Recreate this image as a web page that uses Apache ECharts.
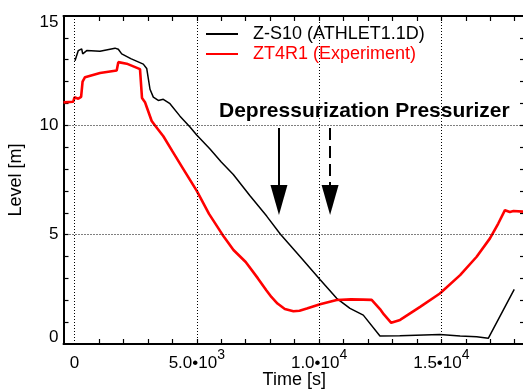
<!DOCTYPE html>
<html><head><meta charset="utf-8">
<script src="https://cdn.jsdelivr.net/npm/echarts@6/dist/echarts.min.js"></script>
<style>html,body{margin:0;padding:0;background:#fff;overflow:hidden}#c{width:523px;height:390px}</style>
</head><body><div id="c"></div>
<script>
// ---- data ----
const simName = 'Z-S10 (ATHLET1.1D)';
const expName = 'ZT4R1 (Experiment)';
const simTime  = [20, 155, 294, 335, 500, 1042, 1656, 1791, 1930, 2300, 2813, 2952, 3087, 3222, 3426, 3630, 3904, 4313, 4722, 4996, 5540, 6000, 6493, 7175, 7857, 8420, 9220, 10037, 10719, 11264, 11808, 12490, 13300, 14939, 15767, 16443, 16918, 17980];
const simLevel = [12.95, 13.42, 13.5, 13.27, 13.42, 13.39, 13.53, 13.48, 13.27, 13.05, 12.8, 12.6, 11.65, 11.29, 11.14, 11.19, 10.99, 10.42, 9.92, 9.56, 8.92, 8.32, 7.75, 6.78, 5.85, 5.02, 4.0, 2.95, 2.09, 1.63, 1.32, 0.37, 0.38, 0.44, 0.37, 0.33, 0.26, 2.5];
const expTime  = [-450, -50, 0, 155, 270, 330, 430, 1042, 1725, 1760, 1791, 2134, 2678, 2740, 2760, 2882, 2952, 3156, 3300, 3632, 4000, 4450, 5000, 5500, 6050, 6500, 7000, 7500, 7850, 8050, 8300, 8600, 8950, 9200, 9500, 10040, 10720, 11300, 11800, 12150, 12490, 12650, 12950, 13313, 14131, 14939, 15767, 16443, 16987, 17326, 17600, 17800, 17950, 18420];
const expLevel = [11.05, 11.08, 11.28, 11.22, 11.3, 12.0, 12.2, 12.39, 12.51, 12.6, 12.89, 12.82, 12.57, 12.5, 11.25, 11.06, 10.84, 10.2, 9.98, 9.5, 8.82, 8.0, 7.0, 5.95, 5.0, 4.3, 3.75, 3.0, 2.45, 2.15, 1.85, 1.6, 1.5, 1.52, 1.62, 1.82, 2.01, 2.04, 2.03, 2.02, 1.6, 1.35, 0.97, 1.1, 1.7, 2.31, 3.15, 3.99, 4.83, 5.51, 6.12, 6.04, 6.08, 6.05];

const xMajorTicks = [0, 5000, 10000, 15000];
const xLabelMantissa = ['0', '5.0\u202210', '1.0\u202210', '1.5\u202210'];
const xLabelExponent = ['', '3', '4', '4'];
const xMinorTicks = [1000,2000,3000,4000,5000,6000,7000,8000,9000,10000,11000,12000,13000,14000,15000,16000,17000,18000];
const yMajorTicks = [0, 5, 10, 15];
const yMinorTicks = [1,2,3,4,5,6,7,8,9,10,11,12,13,14];
const gridX = [0, 5000, 10000, 15000];
const gridY = [5, 10];
const annotationText = 'Depressurization Pressurizer';
const arrowTimes = [8360, 10450];   // solid, dashed
const arrowTop = 9.88;
const arrowHeadCenter = 6.58;

// ---- chart ----
const FONT = '"Liberation Sans", Arial, Helvetica, sans-serif';
const chart = echarts.init(document.getElementById('c'), null, {renderer: 'canvas'});
const xMin = -450, xMax = 18420;

function xAxisBase(pos) {
  return {
    type: 'value', min: xMin, max: xMax, position: pos,
    axisLine: {show: true, onZero: false, lineStyle: {color: '#000', width: 2}},
    axisTick: {show: true, inside: true, length: 5, customValues: xMinorTicks, lineStyle: {color: '#000', width: 1.2}},
    splitLine: {show: false}
  };
}
function yAxisBase(pos) {
  return {
    type: 'value', min: 0, max: 15, position: pos,
    axisLine: {show: true, onZero: false, lineStyle: {color: '#000', width: 2}},
    axisTick: {show: true, inside: true, length: 5, customValues: yMinorTicks, lineStyle: {color: '#000', width: 1.2}},
    splitLine: {show: false}
  };
}

const xBottom = Object.assign(xAxisBase('bottom'), {
  axisLabel: {
    show: true, customValues: xMajorTicks, margin: 4,
    formatter: function (v) {
      const i = xMajorTicks.indexOf(v);
      if (i < 0) return '';
      return xLabelExponent[i] ? '{m|' + xLabelMantissa[i] + '}{e|' + xLabelExponent[i] + '}' : '{m|' + xLabelMantissa[i] + '}';
    },
    rich: {
      m: {fontSize: 17, fontFamily: FONT, color: '#000', lineHeight: 30},
      e: {fontSize: 14, fontFamily: FONT, color: '#000', lineHeight: 14, padding: [0, 0, 16, 0]}
    }
  },
  name: 'Time [s]', nameLocation: 'middle', nameGap: 27, nameMoveOverlap: false,
  nameTextStyle: {fontSize: 18, fontFamily: FONT, color: '#000'}
});
const xTop = Object.assign(xAxisBase('top'), {axisLabel: {show: false}});

const yLeft = Object.assign(yAxisBase('left'), {
  axisLabel: {
    show: true, customValues: yMajorTicks, margin: 5,
    formatter: function (v) {
      if (v === 15) return '{t|15}';
      if (v === 0) return '{b|0}';
      return '{n|' + v + '}';
    },
    rich: {
      n: {fontSize: 17, fontFamily: FONT, color: '#000'},
      t: {fontSize: 17, fontFamily: FONT, color: '#000', padding: [13, 0, 0, 0]},
      b: {fontSize: 17, fontFamily: FONT, color: '#000', padding: [0, 0, 14, 0]}
    }
  },
  name: 'Level [m]', nameLocation: 'middle', nameGap: 38, nameMoveOverlap: false,
  nameTextStyle: {fontSize: 18, fontFamily: FONT, color: '#000'}
});
const yRight = Object.assign(yAxisBase('right'), {axisLabel: {show: false}});

const option = {
  animation: false,
  backgroundColor: '#fff',
  grid: {left: 63.5, right: -2, top: 16, bottom: 46, containLabel: false, outerBoundsMode: 'none'},
  xAxis: [xBottom, xTop],
  yAxis: [yLeft, yRight],
  legend: {
    orient: 'vertical', left: 201, top: 20, itemWidth: 32, itemHeight: 14, itemGap: 2,
    icon: 'path://M0,6 L32,6 L32,8 L0,8 Z',
    data: [
      {name: simName, textStyle: {color: '#000'}},
      {name: expName, textStyle: {color: '#ff0000'}}
    ],
    textStyle: {fontSize: 18, fontFamily: FONT, lineHeight: 16, padding: [0, 0, 0, 10]}
  },
  graphic: [{
    type: 'text', left: 219, top: 101, z: 100,
    style: {text: annotationText, font: 'bold 21px ' + FONT, fill: '#000'}
  }],
  series: [
    {
      name: 'grid', type: 'line', data: [], z: 1, silent: true,
      markLine: {
        symbol: 'none', silent: true, animation: false, label: {show: false},
        lineStyle: {type: [1, 2], color: '#000', width: 1},
        data: gridX.map(function (x) { return {xAxis: x}; }).concat(gridY.map(function (y) { return {yAxis: y}; }))
      }
    },
    {
      name: simName, type: 'line', showSymbol: false, symbol: 'none', z: 3,
      data: simTime.map(function (t, i) { return [t, simLevel[i]]; }),
      lineStyle: {color: '#000', width: 1.5}, itemStyle: {color: '#000'}
    },
    {
      name: expName, type: 'line', showSymbol: false, symbol: 'none', z: 4,
      data: expTime.map(function (t, i) { return [t, expLevel[i]]; }),
      lineStyle: {color: '#ff0000', width: 2.6}, itemStyle: {color: '#ff0000'}
    },
    {
      name: 'arrows', type: 'line', data: [], z: 5, silent: true,
      markLine: {
        symbol: ['none', 'triangle'], silent: true, animation: false, label: {show: false},
        data: [
          [{coord: [arrowTimes[0], arrowTop], lineStyle: {type: 'solid', color: '#000', width: 2}},
           {coord: [arrowTimes[0], arrowHeadCenter], symbolSize: [17, 30]}],
          [{coord: [arrowTimes[1], arrowTop], lineStyle: {type: [12, 6], color: '#000', width: 2}},
           {coord: [arrowTimes[1], arrowHeadCenter], symbolSize: [17, 30]}]
        ],
        itemStyle: {color: '#000'}
      }
    }
  ]
};
chart.setOption(option);
</script></body></html>
